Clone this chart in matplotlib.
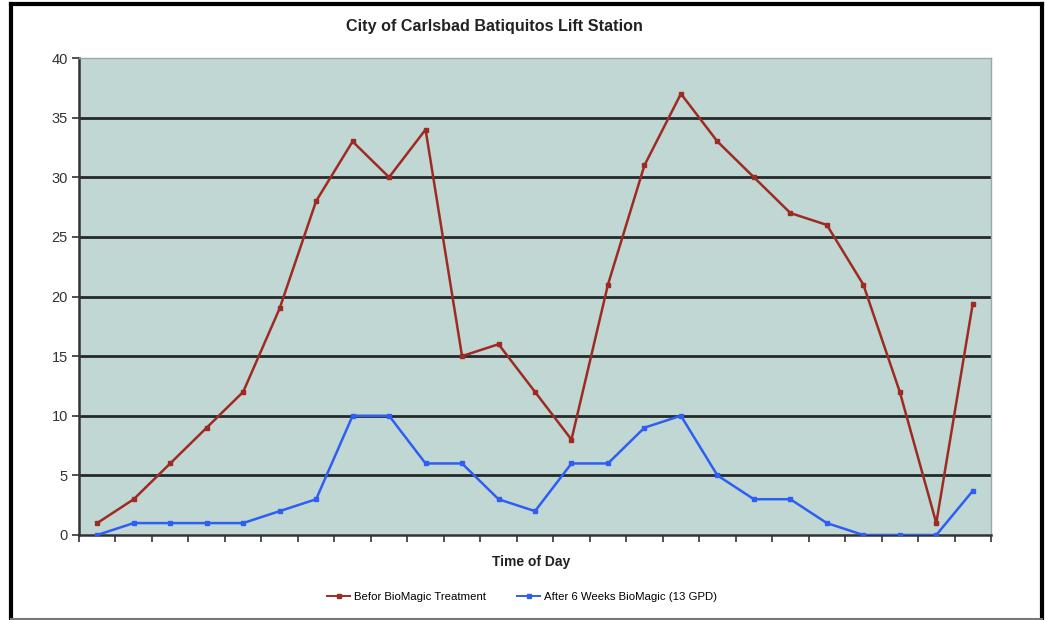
import matplotlib
matplotlib.use("Agg")
import matplotlib.pyplot as plt
from matplotlib.lines import Line2D

plt.rcParams['font.family'] = ['Liberation Sans', 'DejaVu Sans']

# Hourly readings through the day, before and after treatment
before = [1, 3, 6, 9, 12, 19, 28, 33, 30, 34, 15, 16, 12, 8, 21, 31, 37, 33, 30,
          27, 26, 21, 12, 1, 19.4]
after = [0, 1, 1, 1, 1, 2, 3, 10, 10, 6, 6, 3, 2, 6, 6, 9, 10, 5, 3, 3, 1, 0, 0,
         0, 3.7]
series_names = ["Befor BioMagic Treatment", "After 6 Weeks BioMagic (13 GPD)"]
y_ticks = [0, 5, 10, 15, 20, 25, 30, 35, 40]

red = '#9E2B22'
blue = '#2F5EF2'

fig = plt.figure(figsize=(10.45, 6.2), dpi=100)
ax = fig.add_axes([79 / 1045, 1 - 535 / 620, (991 - 79) / 1045, (535 - 58) / 620])
ax.set_facecolor('#C1D7D4')

x = list(range(len(before)))
ax.plot(x, before, color=red, lw=1.8, marker='s', ms=3.5, zorder=3)
ax.plot(x, after, color=blue, lw=1.8, marker='s', ms=3.0, zorder=3)

ax.set_xlim(-0.5, len(before) - 0.5)
ax.set_ylim(0, 40)
ax.set_yticks(y_ticks)
ax.set_xticks([i - 0.5 for i in range(len(before) + 1)])
ax.set_xticklabels([])
ax.tick_params(axis='y', labelsize=10.5, labelcolor='#333333', length=5,
               width=1.2, color='#333333', pad=3)
ax.tick_params(axis='x', length=5, width=1.2, color='#333333')

for v in y_ticks[1:-1]:
    ax.axhline(v, color='#262A2A', lw=2.0, zorder=1)

for side in ('left', 'bottom'):
    ax.spines[side].set_color('#333333')
    ax.spines[side].set_linewidth(1.8)
for side in ('top', 'right'):
    ax.spines[side].set_color('#9AA8A6')
    ax.spines[side].set_linewidth(1.0)

fig.text(494 / 1045, 1 - 27 / 620, "City of Carlsbad Batiquitos Lift Station",
         ha='center', va='center', fontsize=11.6, fontweight='bold', color='#222222')
fig.text(531 / 1045, 1 - 562 / 620, "Time of Day", ha='center', va='center',
         fontsize=10, fontweight='bold', color='#222222')

handles = [Line2D([], [], color=red, lw=1.4, marker='s', ms=2.2),
           Line2D([], [], color=blue, lw=1.4, marker='s', ms=2.2)]
fig.legend(handles, series_names, loc='center', bbox_to_anchor=(522 / 1045, 1 - 597 / 620),
           ncol=2, frameon=False, fontsize=8.2, handlelength=2.0, columnspacing=2.8,
           handletextpad=0.3)

# Outer frame around the chart
fw, fh = 1045, 620
fig.add_artist(Line2D([11 / fw, 11 / fw], [0, 1 - 4 / fh], color='black', lw=3,
                      transform=fig.transFigure))
fig.add_artist(Line2D([11 / fw, 1042 / fw], [1 - 4 / fh, 1 - 4 / fh], color='black', lw=3,
                      transform=fig.transFigure))
fig.add_artist(Line2D([1042 / fw, 1042 / fw], [0, 1 - 4 / fh], color='black', lw=3,
                      transform=fig.transFigure))
fig.add_artist(Line2D([11 / fw, 1042 / fw], [1.2 / fh, 1.2 / fh], color='#777777', lw=1.5,
                      transform=fig.transFigure))

fig.savefig('out.png', dpi=100)
